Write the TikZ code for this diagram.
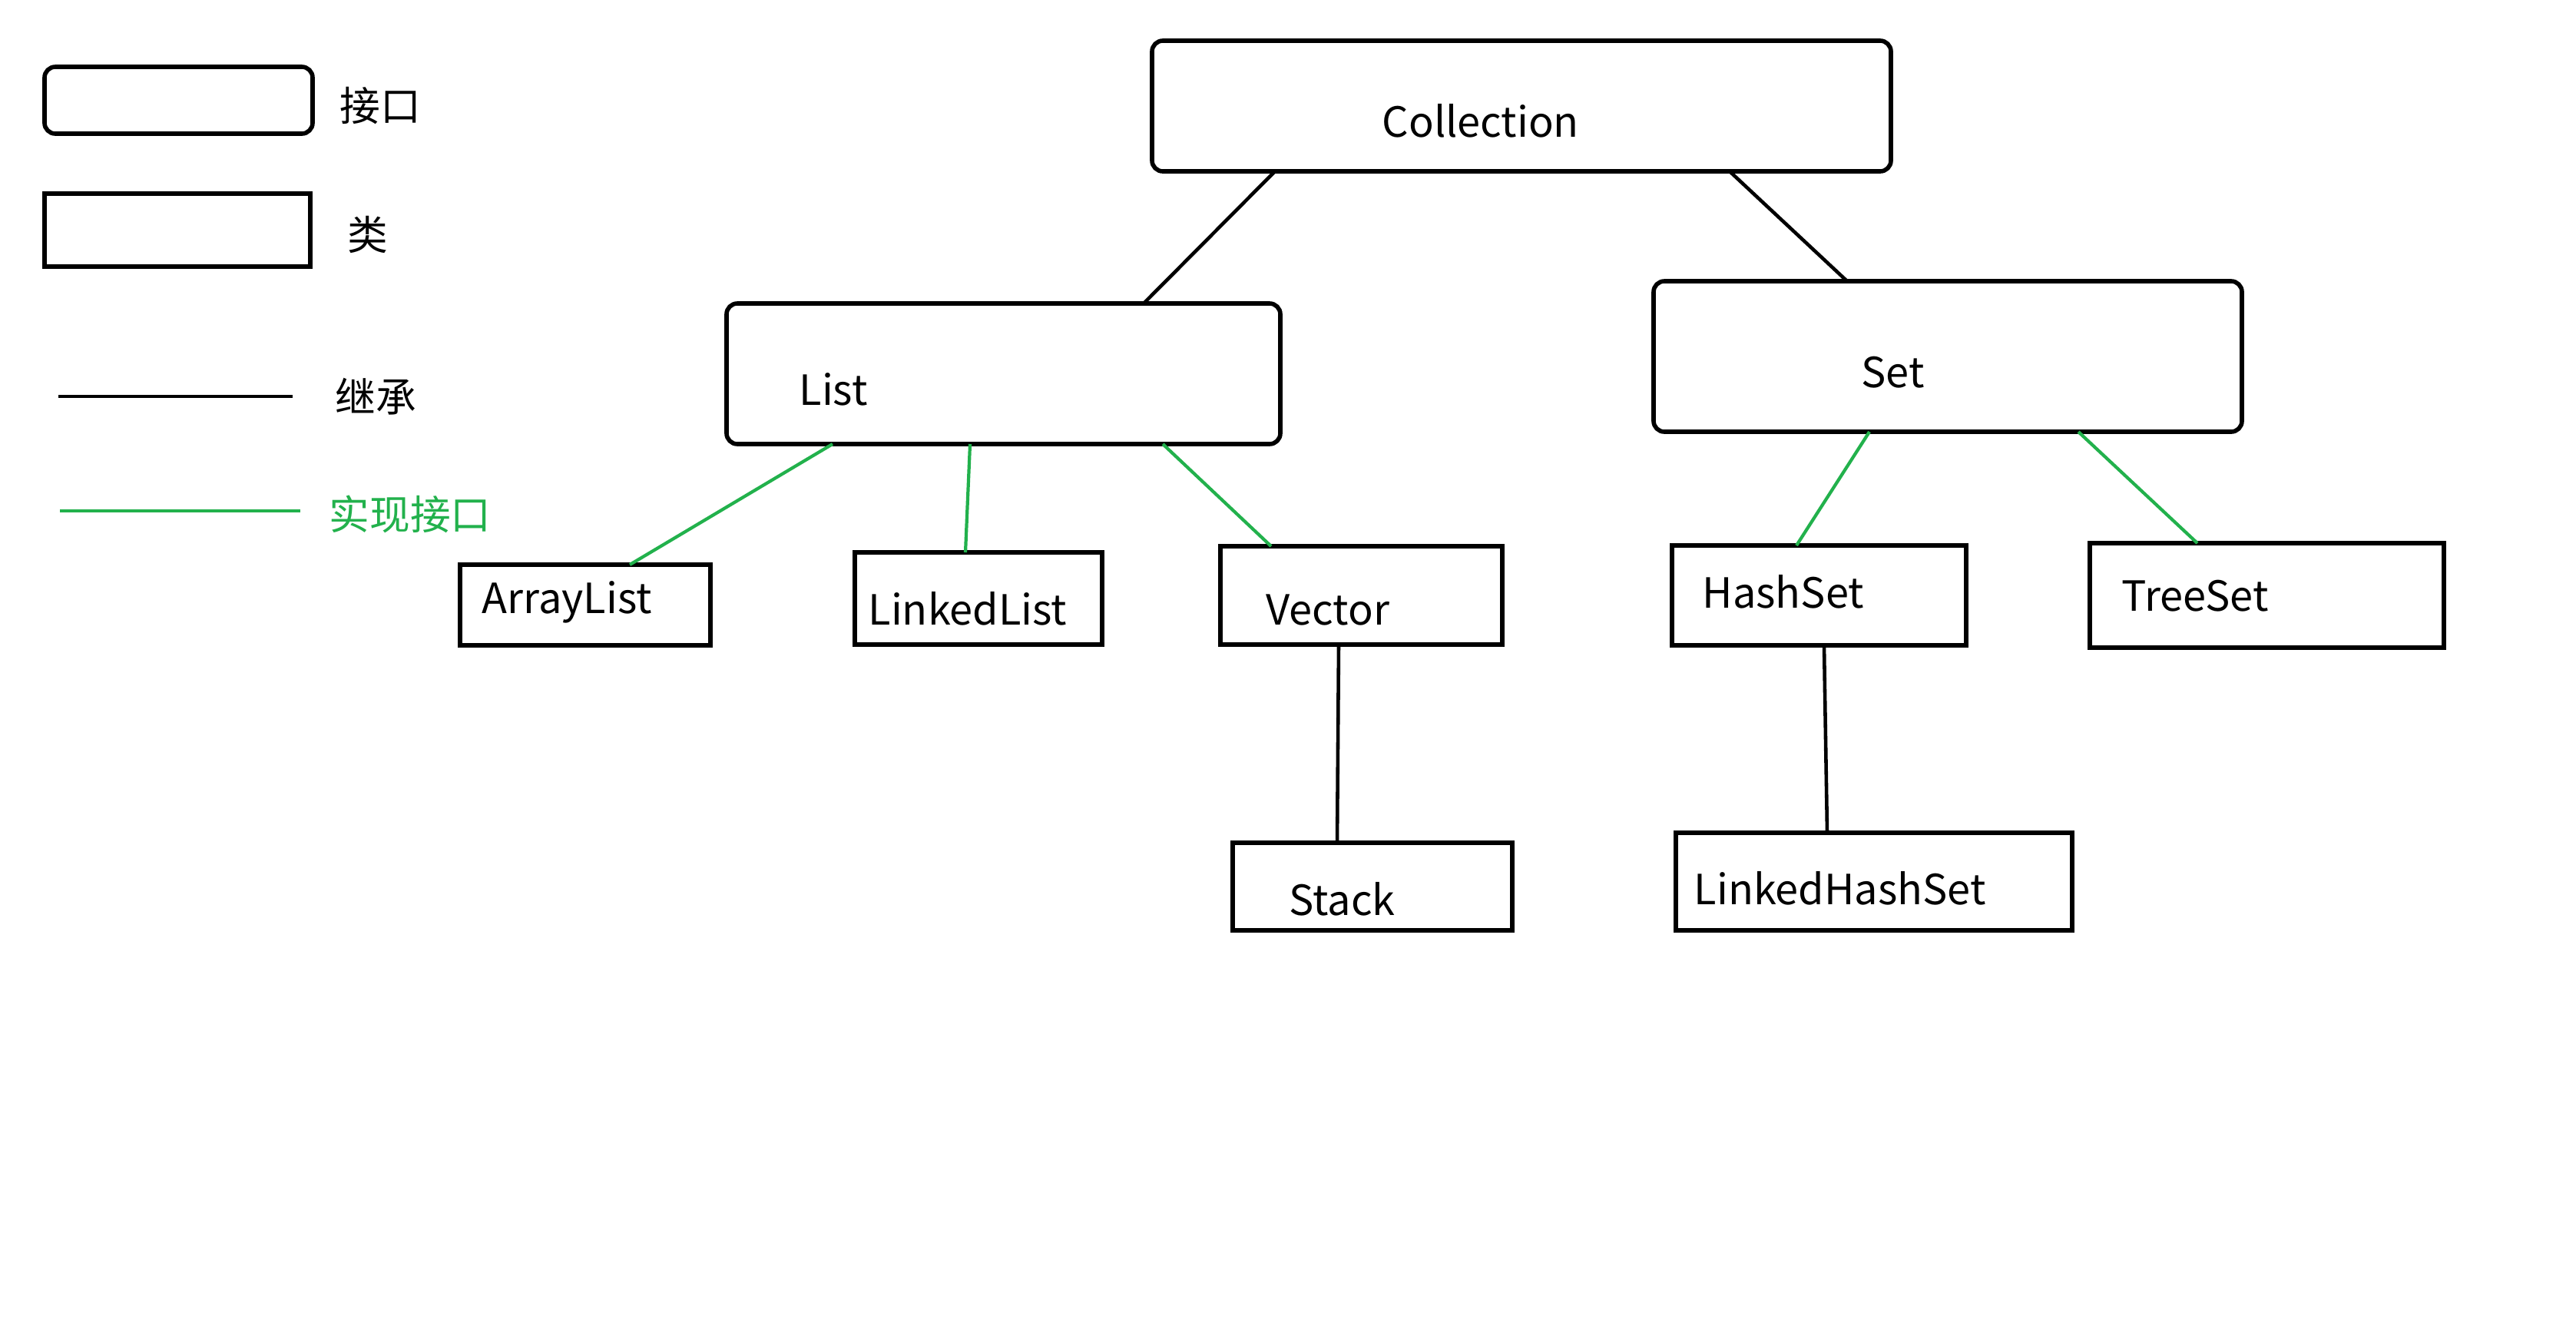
\documentclass[tikz,border=0pt]{standalone}
\usepackage{fontspec}
\setmainfont{Noto Sans CJK SC}
\usepackage{tikz}
\usetikzlibrary{positioning}
\definecolor{implgreen}{RGB}{34,177,76}

\begin{document}
\begin{tikzpicture}[x=1cm,y=-1cm,
	iface/.style={draw, rounded corners=0.14cm, line width=1.6pt, inner sep=0pt, outer sep=0pt},
	cls/.style={draw, line width=1.6pt, inner sep=0pt, outer sep=0pt},
	inh/.style={line width=1.3pt, black},
	impl/.style={line width=1.2pt, implgreen},
	lbl/.style={inner sep=0pt, anchor=base west, font=\fontsize{15.4pt}{19pt}\selectfont},
	key/.style={inner sep=0pt, anchor=west, font=\fontsize{15pt}{18pt}\selectfont}]
\useasboundingbox (0,0) rectangle (33.54,17.25);

% legend
\node[iface, minimum width=3.49cm, minimum height=0.87cm](kiface) at (2.325,1.305){};
\node[key](kifacetxt) at (4.42,1.38){接口};
\node[cls, minimum width=3.46cm, minimum height=0.95cm](kcls) at (2.31,2.995){};
\node[key](kclstxt) at (4.52,3.05){类};
\coordinate (kinhA) at (0.76,5.16);
\coordinate (kinhB) at (3.81,5.16);
\draw[inh] (kinhA) -- (kinhB);
\node[key](kinhtxt) at (4.36,5.16){继承};
\coordinate (kimplA) at (0.78,6.65);
\coordinate (kimplB) at (3.91,6.65);
\draw[impl] (kimplA) -- (kimplB);
\node[key, text=implgreen](kimpltxt) at (4.28,6.69){实现接口};

% interfaces
\node[iface, minimum width=9.62cm, minimum height=1.70cm](coll) at (19.81,1.38){};
\node[lbl](colltxt) at (17.99,1.78){Collection};
\node[iface, minimum width=7.21cm, minimum height=1.83cm](list) at (13.065,4.865){};
\node[lbl](listtxt) at (10.40,5.27){List};
\node[iface, minimum width=7.66cm, minimum height=1.96cm](set) at (25.36,4.64){};
\node[lbl](settxt) at (24.23,5.04){Set};

% classes
\node[cls, minimum width=3.26cm, minimum height=1.05cm](alist) at (7.62,7.875){};
\node[lbl](alisttxt) at (6.27,7.98){ArrayList};
\node[cls, minimum width=3.22cm, minimum height=1.20cm](llist) at (12.74,7.79){};
\node[lbl](llisttxt) at (11.30,8.13){LinkedList};
\node[cls, minimum width=3.67cm, minimum height=1.28cm](vec) at (17.725,7.75){};
\node[lbl](vectxt) at (16.48,8.13){Vector};
\node[cls, minimum width=3.64cm, minimum height=1.14cm](stk) at (17.87,11.54){};
\node[lbl](stktxt) at (16.78,11.91){Stack};
\node[cls, minimum width=3.83cm, minimum height=1.30cm](hset) at (23.685,7.75){};
\node[lbl](hsettxt) at (22.16,7.91){HashSet};
\node[cls, minimum width=4.61cm, minimum height=1.36cm](tset) at (29.515,7.75){};
\node[lbl](tsettxt) at (27.62,7.95){TreeSet};
\node[cls, minimum width=5.16cm, minimum height=1.27cm](lhset) at (24.40,11.475){};
\node[lbl](lhsettxt) at (22.05,11.77){LinkedHashSet};

% inheritance
\draw[inh] ([xshift=-3.21cm]coll.south) -- ([xshift=1.825cm]list.north);
\draw[inh] ([xshift=2.71cm]coll.south) -- ([xshift=-1.31cm]set.north);
\draw[inh] ([xshift=-0.295cm]vec.south) -- ([xshift=-0.46cm]stk.north);
\draw[inh] ([xshift=0.065cm]hset.south) -- ([xshift=-0.61cm]lhset.north);

% implementation
\draw[impl] ([xshift=-2.225cm]list.south) -- ([xshift=0.58cm]alist.north);
\draw[impl] ([xshift=-0.435cm]list.south) -- ([xshift=-0.17cm]llist.north);
\draw[impl] ([xshift=2.075cm]list.south) -- ([xshift=-1.175cm]vec.north);
\draw[impl] ([xshift=-1.02cm]set.south) -- ([xshift=-0.295cm]hset.north);
\draw[impl] ([xshift=1.70cm]set.south) -- ([xshift=-0.905cm]tset.north);
\end{tikzpicture}
\end{document}
